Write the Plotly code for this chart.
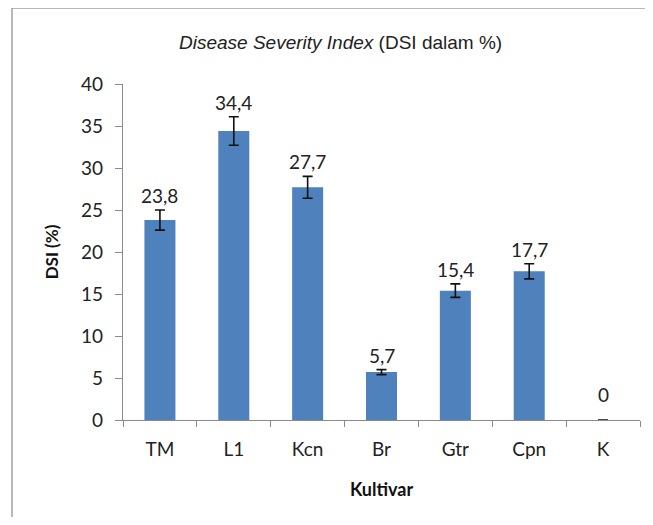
import plotly.graph_objects as go

categories = ["TM", "L1", "Kcn", "Br", "Gtr", "Cpn", "K"]
dsi_values = [23.8, 34.4, 27.7, 5.7, 15.4, 17.7, 0]
dsi_errors = [1.2, 1.7, 1.3, 0.3, 0.8, 0.9, 0]
value_labels = ["23,8", "34,4", "27,7", "5,7", "15,4", "17,7", "0"]

font_main = "Lato, Open Sans, sans-serif"
axis_col = "#8a8a8a"

# page body has an 8px margin, so figure coordinates are offset by 8px;
# keep the figure small enough that no scrollbar appears
OFF = 8
FW, FH = 653 - 2 * OFF, 525 - 2 * OFF
L, T, PW, PH = 123 - OFF, 84 - OFF, 517, 336

fig = go.Figure()
fig.add_trace(go.Bar(
    x=categories, y=dsi_values,
    marker=dict(color="#4F81BD", line=dict(width=0)),
    error_y=dict(type="data", array=dsi_errors, visible=True,
                 color="#111111", thickness=1.6, width=5),
    width=0.42,
    showlegend=False,
))

for c, v, e, t in zip(categories, dsi_values, dsi_errors, value_labels):
    fig.add_annotation(x=c, y=v + e, text=t, showarrow=False,
                       yanchor="bottom", yshift=1 if v > 0 else 12,
                       font=dict(family=font_main, size=19, color="#222"))

fig.add_annotation(xref="paper", yref="paper", x=(340 - 123) / PW, y=1.0,
                   yshift=42, yanchor="middle", showarrow=False,
                   text="<i>Disease Severity Index</i> (DSI dalam %)",
                   font=dict(family="Liberation Sans, Arial, sans-serif", size=19, color="#222"))

# figure border (Excel chart area): left and top edges only are in view
bx0 = (12 - 123) / PW
by1 = (420 - 8) / PH
fig.add_shape(type="line", xref="paper", yref="paper",
              x0=bx0, x1=bx0, y0=(420 - 540) / PH, y1=by1,
              line=dict(color="#a0a0a0", width=1.5), layer="below")
fig.add_shape(type="line", xref="paper", yref="paper",
              x0=bx0, x1=(680 - 123) / PW, y0=by1, y1=by1,
              line=dict(color="#a0a0a0", width=1.5), layer="below")

fig.update_layout(
    width=FW, height=FH,
    margin=dict(l=L, r=FW - L - PW, t=T, b=FH - T - PH),
    plot_bgcolor="white", paper_bgcolor="white",
    font=dict(family=font_main, size=19, color="#222"),
    bargap=0.58,
)
fig.update_xaxes(
    automargin=False,
    showline=True, linecolor=axis_col, linewidth=1.2,
    ticks="outside", tickson="boundaries", ticklen=6, tickcolor=axis_col,
    ticklabelstandoff=12,
    tickfont=dict(family=font_main, size=19, color="#222"),
    title=dict(text="<b>Kultivar</b>", font=dict(family=font_main, size=18, color="#111"), standoff=24),
    showgrid=False,
)
fig.update_yaxes(
    automargin=False,
    range=[0, 40], dtick=5, showline=True, linecolor=axis_col, linewidth=1.2,
    ticks="outside", ticklen=7, tickcolor=axis_col,
    ticklabelstandoff=8,
    tickfont=dict(family=font_main, size=19, color="#222"),
    title=dict(text="<b>DSI (%)</b>", font=dict(family=font_main, size=17, color="#111"), standoff=18),
    showgrid=False, zeroline=False,
)

fig.write_html("out.html")
